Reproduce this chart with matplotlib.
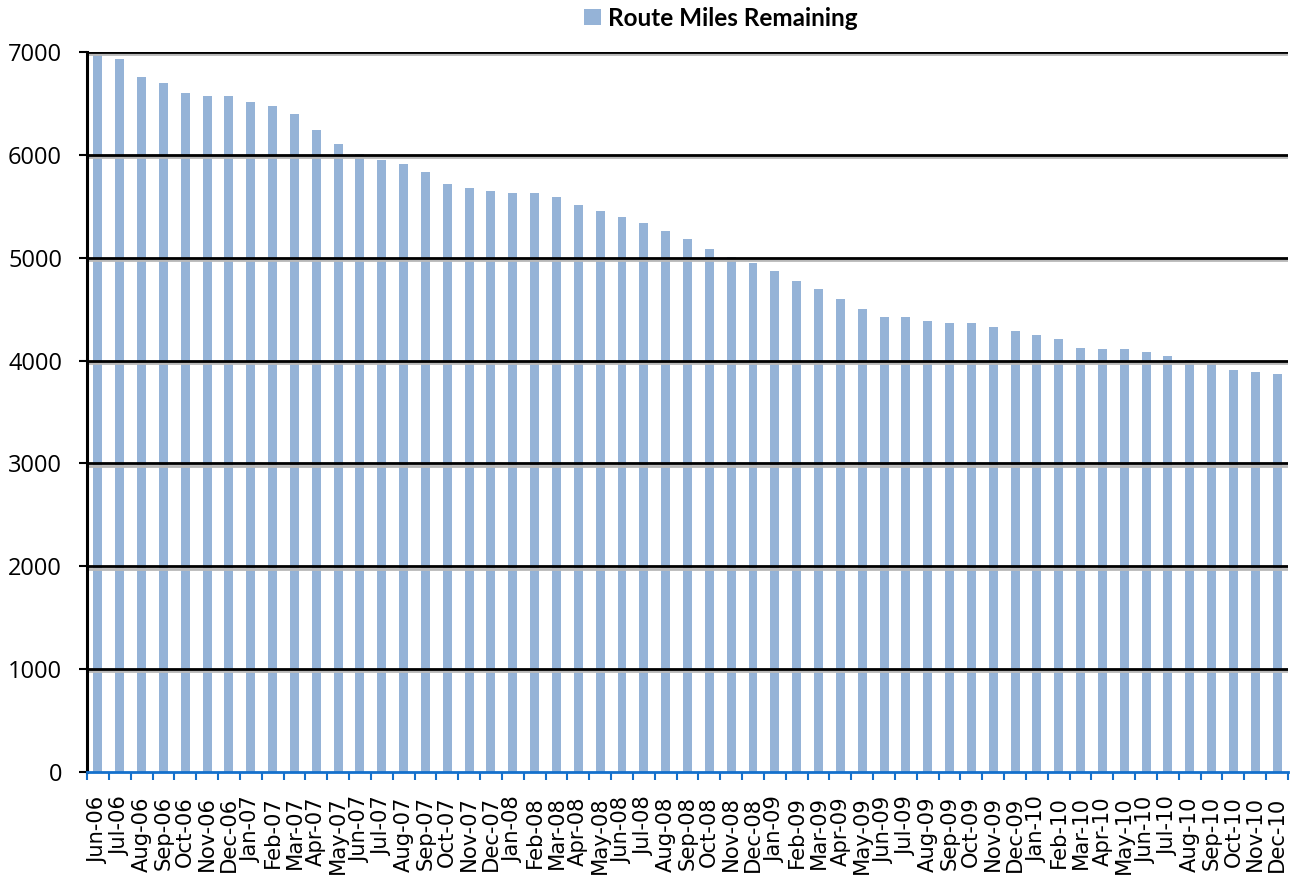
import matplotlib
matplotlib.use("Agg")
import matplotlib.pyplot as plt
import matplotlib.patheffects as pe
from matplotlib.patches import Patch
import numpy as np

months = ["Jun-06", "Jul-06", "Aug-06", "Sep-06", "Oct-06", "Nov-06", "Dec-06",
          "Jan-07", "Feb-07", "Mar-07", "Apr-07", "May-07", "Jun-07", "Jul-07",
          "Aug-07", "Sep-07", "Oct-07", "Nov-07", "Dec-07",
          "Jan-08", "Feb-08", "Mar-08", "Apr-08", "May-08", "Jun-08", "Jul-08",
          "Aug-08", "Sep-08", "Oct-08", "Nov-08", "Dec-08",
          "Jan-09", "Feb-09", "Mar-09", "Apr-09", "May-09", "Jun-09", "Jul-09",
          "Aug-09", "Sep-09", "Oct-09", "Nov-09", "Dec-09",
          "Jan-10", "Feb-10", "Mar-10", "Apr-10", "May-10", "Jun-10", "Jul-10",
          "Aug-10", "Sep-10", "Oct-10", "Nov-10", "Dec-10"]

route_miles = [7000, 6935, 6760, 6702, 6606, 6570, 6570,
               6510, 6472, 6395, 6242, 6107, 6005, 5950,
               5910, 5833, 5716, 5678, 5652,
               5633, 5633, 5593, 5515, 5456, 5396, 5337,
               5259, 5180, 5085, 5006, 4948,
               4869, 4770, 4696, 4598, 4500, 4421, 4421,
               4382, 4362, 4362, 4323, 4284,
               4245, 4205, 4127, 4108, 4108, 4088, 4049,
               4010, 3971, 3912, 3892, 3872]

y_ticks = [0, 1000, 2000, 3000, 4000, 5000, 6000, 7000]

bar_color = "#95B3D7"
axis_blue = "#1470CC"

fig = plt.figure(figsize=(12.96, 8.75), dpi=100)
ax = fig.add_axes([87 / 1296, 103 / 875, 1201 / 1296, 720 / 875])

x = np.arange(len(months))
ax.bar(x, route_miles, width=0.41, color=bar_color, zorder=2)

ax.set_xlim(-0.5, len(months) - 0.5)
ax.set_ylim(0, 7000)

# horizontal gridlines with a soft grey shadow, drawn above the bars
for v in y_ticks[1:]:
    ax.axhline(v, color="black", linewidth=2.0, zorder=3,
               path_effects=[pe.SimpleLineShadow(offset=(0, -1.6),
                                                 shadow_color="#b8b8b8", alpha=1.0),
                             pe.Normal()])

for side in ("top", "right"):
    ax.spines[side].set_visible(False)
ax.spines["left"].set_color("black")
ax.spines["left"].set_linewidth(2.2)
ax.spines["left"].set_zorder(4)
ax.spines["bottom"].set_color(axis_blue)
ax.spines["bottom"].set_linewidth(2.0)
ax.spines["bottom"].set_zorder(4)

ax.set_yticks(y_ticks)
ax.set_yticklabels([str(v) for v in y_ticks], fontfamily="Open Sans", fontsize=17)
ax.tick_params(axis="y", direction="out", length=6, width=1.5, color="black", pad=12)

ax.set_xticks(x)
ax.set_xticklabels(months, rotation=90, fontfamily="DejaVu Sans", fontsize=15.2,
                   va="top", ha="center")
ax.tick_params(axis="x", which="major", length=0, pad=17.5)
ax.set_xticks(np.arange(-0.5, len(months), 1.0), minor=True)
ax.tick_params(axis="x", which="minor", direction="out", length=5.5, width=1.5,
               color=axis_blue)

handle = Patch(facecolor=bar_color, edgecolor="none")
fig.legend([handle], ["Route Miles Remaining"], loc="center",
           bbox_to_anchor=(721 / 1296, 1 - 18 / 875), frameon=False,
           prop={"family": "Lato", "weight": "bold", "size": 17.5},
           handlelength=0.68, handleheight=0.68, handletextpad=0.3)

fig.savefig("out.png", dpi=100)
